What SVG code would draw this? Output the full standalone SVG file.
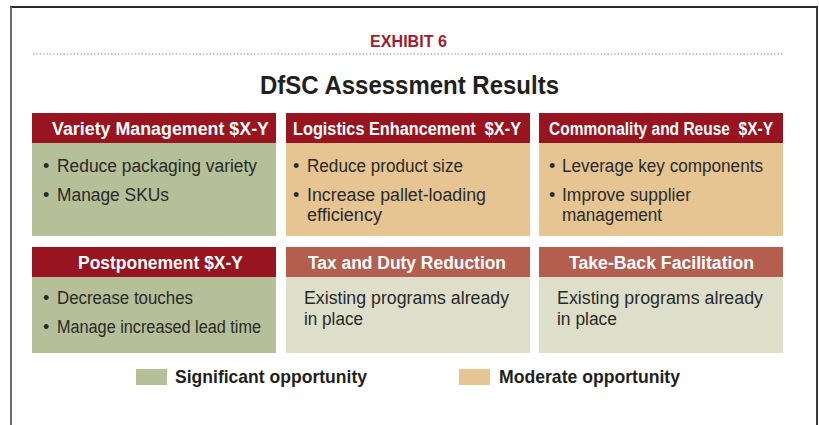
<svg xmlns="http://www.w3.org/2000/svg" width="819" height="425" viewBox="0 0 819 425">
<style>
.hd{font-family:"Liberation Sans",Arial,sans-serif;font-weight:bold;font-size:17.5px;fill:#ffffff}
.bd{font-family:"Liberation Sans",Arial,sans-serif;font-size:18px;fill:#2a2a2a}
.lg{font-family:"Liberation Sans",Arial,sans-serif;font-weight:bold;font-size:18.5px;fill:#231f20}
.dk{fill:#971420}
.lt{fill:#b45e50}
.sig{fill:#b5bf98}
.mod{fill:#e6c592}
.non{fill:#dddfcb}
</style>
<rect width="819" height="425" fill="#ffffff"/>
<g id="frame">
<line x1="10" y1="7" x2="818" y2="7" stroke="#2a2a2a" stroke-width="2"/>
<line x1="11" y1="7" x2="11" y2="425" stroke="#6a6a6a" stroke-width="2"/>
<line x1="817" y1="7" x2="817" y2="425" stroke="#3a3a3a" stroke-width="2"/>
<line x1="33" y1="54" x2="783" y2="54" stroke="#777" stroke-width="1.2" stroke-dasharray="1.2 2.2"/>
</g>
<g id="titles">
<text x="408.5" y="47" text-anchor="middle" textLength="77" lengthAdjust="spacingAndGlyphs" style="font-family:'Liberation Sans',Arial,sans-serif;font-weight:bold;font-size:17px;fill:#a01c2c">EXHIBIT 6</text>
<text x="409.5" y="94" text-anchor="middle" textLength="299" lengthAdjust="spacingAndGlyphs" style="font-family:'Liberation Sans',Arial,sans-serif;font-weight:bold;font-size:26px;fill:#231f20">DfSC Assessment Results</text>
</g>
<g id="variety">
<rect class="dk" x="32" y="113" width="244" height="30"/>
<rect class="sig" x="32" y="143" width="244" height="93"/>
<text class="hd" x="52" y="135" textLength="217" lengthAdjust="spacingAndGlyphs">Variety Management $X-Y</text>
<text class="bd" x="43" y="172">•</text>
<text class="bd" x="57" y="172" textLength="200" lengthAdjust="spacingAndGlyphs">Reduce packaging variety</text>
<text class="bd" x="43" y="201">•</text>
<text class="bd" x="57" y="201" textLength="112" lengthAdjust="spacingAndGlyphs">Manage SKUs</text>
</g>
<g id="logistics">
<rect class="dk" x="286" y="113" width="244" height="30"/>
<rect class="mod" x="286" y="143" width="244" height="93"/>
<text class="hd" x="293" y="135" textLength="228" lengthAdjust="spacingAndGlyphs" xml:space="preserve">Logistics Enhancement  $X-Y</text>
<text class="bd" x="293" y="172">•</text>
<text class="bd" x="307" y="172" textLength="156" lengthAdjust="spacingAndGlyphs">Reduce product size</text>
<text class="bd" x="293" y="201">•</text>
<text class="bd" x="307" y="201" textLength="179" lengthAdjust="spacingAndGlyphs">Increase pallet-loading</text>
<text class="bd" x="307" y="221" textLength="75" lengthAdjust="spacingAndGlyphs">efficiency</text>
</g>
<g id="commonality">
<rect class="dk" x="539" y="113" width="244" height="30"/>
<rect class="mod" x="539" y="143" width="244" height="93"/>
<text class="hd" x="549" y="135" textLength="224" lengthAdjust="spacingAndGlyphs" xml:space="preserve">Commonality and Reuse  $X-Y</text>
<text class="bd" x="549" y="172">•</text>
<text class="bd" x="562" y="172" textLength="201" lengthAdjust="spacingAndGlyphs">Leverage key components</text>
<text class="bd" x="549" y="201">•</text>
<text class="bd" x="562" y="201" textLength="129" lengthAdjust="spacingAndGlyphs">Improve supplier</text>
<text class="bd" x="562" y="221" textLength="100" lengthAdjust="spacingAndGlyphs">management</text>
</g>
<g id="postponement">
<rect class="dk" x="32" y="247" width="244" height="30"/>
<rect class="sig" x="32" y="277" width="244" height="76"/>
<text class="hd" x="78" y="269" textLength="165" lengthAdjust="spacingAndGlyphs">Postponement $X-Y</text>
<text class="bd" x="43" y="304">•</text>
<text class="bd" x="57" y="304" textLength="136" lengthAdjust="spacingAndGlyphs">Decrease touches</text>
<text class="bd" x="43" y="333">•</text>
<text class="bd" x="57" y="333" textLength="204" lengthAdjust="spacingAndGlyphs">Manage increased lead time</text>
</g>
<g id="tax">
<rect class="lt" x="286" y="247" width="244" height="30"/>
<rect class="non" x="286" y="277" width="244" height="76"/>
<text class="hd" x="308" y="269" textLength="198" lengthAdjust="spacingAndGlyphs">Tax and Duty Reduction</text>
<text class="bd" x="304" y="304" textLength="205" lengthAdjust="spacingAndGlyphs">Existing programs already</text>
<text class="bd" x="304" y="325" textLength="59" lengthAdjust="spacingAndGlyphs">in place</text>
</g>
<g id="takeback">
<rect class="lt" x="539" y="247" width="244" height="30"/>
<rect class="non" x="539" y="277" width="244" height="76"/>
<text class="hd" x="569" y="269" textLength="185" lengthAdjust="spacingAndGlyphs">Take-Back Facilitation</text>
<text class="bd" x="557" y="304" textLength="206" lengthAdjust="spacingAndGlyphs">Existing programs already</text>
<text class="bd" x="557" y="325" textLength="60" lengthAdjust="spacingAndGlyphs">in place</text>
</g>
<g id="legend">
<rect class="sig" x="136" y="369" width="31" height="16"/>
<text class="lg" x="175" y="383" textLength="192" lengthAdjust="spacingAndGlyphs">Significant opportunity</text>
<rect class="mod" x="459" y="369" width="31" height="16"/>
<text class="lg" x="499" y="383" textLength="181" lengthAdjust="spacingAndGlyphs">Moderate opportunity</text>
</g>
</svg>
